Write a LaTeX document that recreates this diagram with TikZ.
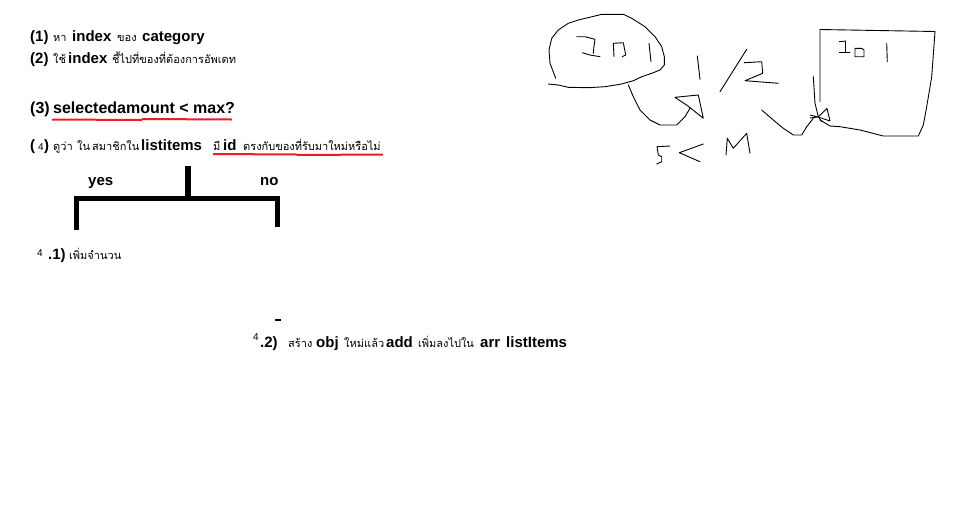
\documentclass[tikz,border=0pt]{standalone}
\usepackage{fontspec}
\setmainfont{Liberation Sans}
\newfontfamily\thai[Script=Thai]{Loma}
\definecolor{pred}{RGB}{237,28,36}
\begin{document}
\begin{tikzpicture}[x=1pt,y=-1pt,
  lat/.style={font=\fontsize{15}{18}\selectfont\bfseries, inner sep=0pt, anchor=base west},
  latb/.style={font=\fontsize{16}{18}\selectfont\bfseries, inner sep=0pt, anchor=base west},
  th/.style={font=\thai\fontsize{11}{13}\selectfont, inner sep=0pt, anchor=base west},
  sm/.style={font=\fontsize{10}{12}\selectfont, inner sep=0pt, anchor=base west},
  sketch/.style={line width=0.9pt, line join=round, line cap=round},
  ul/.style={pred, line width=2pt},
  tree/.style={line width=5.5pt}]
\useasboundingbox[fill=white] (0,0) rectangle (971,504);

% line 1
\node[lat] (p1) at (30,41) {(1)};
\node[th]  (t1a) at (53,41) {หา};
\node[lat] (t1b) at (72,41) {index};
\node[th]  (t1c) at (117,41) {ของ};
\node[lat] (t1d) at (142,41) {category};

% line 2
\node[lat] (p2) at (30,63) {(2)};
\node[th]  (t2a) at (53,63) {ใช้};
\node[lat] (t2b) at (68,63) {index};
\node[th]  (t2c) at (112,63) {ชี้ไปที่ของที่ต้องการอัพเดท};

% line 3
\node[latb] (p3) at (30,113) {(3)};
\node[latb] (t3a) at (53,113) {selectedamount < max?};
\draw[ul] (52,119.5) -- (142,120);
\draw[ul] (142,119) -- (232,119.5);

% line 4
\node[lat] (p4a) at (30,150) {(};
\node[sm]  (p4b) at (38,150) {4};
\node[lat] (p4c) at (44,150) {)};
\node[th]  (t4a) at (53,150) {ดูว่า};
\node[th]  (t4b) at (77,150) {ใน};
\node[th]  (t4c) at (92,150) {สมาชิกใน};
\node[lat] (t4d) at (141,150) {listitems};
\node[th]  (t4e) at (213,150) {มี};
\node[lat] (t4f) at (223,150) {id};
\node[th]  (t4g) at (243,150) {ตรงกับของที่รับมาใหม่หรือไม่};
\draw[ul] (213,154) -- (297,154.5);
\draw[ul] (297,155) -- (383,154.5);

% tree
\draw[tree] (188,166) -- (188,198.5);
\draw[tree, line join=miter] (76.5,230) -- (76.5,198.5) -- (277.5,198.5) -- (277.5,227);
\node[lat] (yes) at (88,185) {yes};
\node[lat] (no) at (260,185) {no};

% 4.1
\node[sm]  (p41a) at (37,256) {4};
\node[lat] (p41b) at (48,259) {.1)};
\node[th]  (t41) at (69,259) {เพิ่มจำนวน};

% 4.2
\draw[line width=2pt] (275,319.5) -- (281,319.5);
\node[sm]  (p42a) at (253,340) {4};
\node[lat] (p42b) at (260,347) {.2)};
\node[th]  (t42a) at (288,347) {สร้าง};
\node[lat] (t42b) at (316,347) {obj};
\node[th]  (t42c) at (344,347) {ใหม่};
\node[th]  (t42d) at (364,347) {แล้ว};
\node[lat] (t42e) at (386,347) {add};
\node[th]  (t42f) at (418,347) {เพิ่มลงไปใน};
\node[lat] (t42g) at (480,347) {arr};
\node[lat] (t42h) at (506,347) {listItems};

% sketch: blob
\draw[sketch] (555.7,78.3) -- (550,63.3) -- (549,50) -- (551.7,38.3) -- (558.3,30) -- (568.3,23.3) -- (578.3,20) -- (595,16) -- (601.7,14.3) -- (623.3,14.3) -- (631.7,18.3) -- (645,26.7) -- (655,36.7) -- (661.7,46.7) -- (664.3,56.7) -- (664.3,65) -- (660,70) -- (651.7,73.3) -- (641.7,76.7) -- (633.3,80.7) -- (621.7,84) -- (605,86.7) -- (588.3,87.7) -- (568.3,87.3) -- (558.3,85) -- (548.3,84);
% ID 1 in blob
\draw[sketch] (576.7,36.7) -- (585,36.7) -- (595,39.3) -- (594,46) -- (593.3,53.3);
\draw[sketch] (582.3,52.7) -- (590,55) -- (600,56.7);
\draw[sketch] (614,56.7) -- (613.3,43.3) -- (623.3,42.7) -- (625.7,55) -- (622.3,56.7);
\draw[sketch] (649,43.3) -- (651,61.7);
% curved arrow
\draw[sketch] (628.3,85) -- (633.3,96.7) -- (640,110) -- (650,120) -- (660,125) -- (676.7,125) -- (685,116.7) -- (690,108.3);
\draw[sketch] (675,97.3) -- (698.3,95) -- (703.3,118.3) -- (688,106) -- cycle;
% 1/2
\draw[sketch] (697.3,56) -- (700,79.3);
\draw[sketch] (746.7,49.3) -- (720,91.7);
\draw[sketch] (744,62.7) -- (761.7,61.7) -- (762.7,73.3) -- (745,80.7) -- (778.3,83.3);
% S < M
\draw[sketch] (670,146) -- (657,146.7) -- (658.3,155) -- (661.7,156.7) -- (661.7,161.7) -- (656.7,164);
\draw[sketch] (703.3,144) -- (679.3,152.7) -- (700,161.7);
\draw[sketch] (726,155) -- (727.3,138.3) -- (733.3,148.3) -- (746.7,133.3) -- (750,153.3);
% line to box
\draw[sketch] (761.7,110) -- (773.3,120) -- (783.3,128.3) -- (793.3,135) -- (801.7,135) -- (806.7,126.7) -- (813.3,118.3);
\draw[sketch] (810,115) -- (818,117) -- (827,108.5) -- (830,121) -- (818,117) -- (810,118);
% box
\draw[sketch] (820,101.7) -- (820,29.5) -- (935,31.5) -- (931.7,76.7) -- (926.7,106.7) -- (923.3,125) -- (918.3,136) -- (883.3,136) -- (860,130) -- (840,126.7) -- (830,126) -- (820,120);
\draw[sketch] (813.3,76.7) -- (815,103.3) -- (818.3,116.7) -- (821.7,121.7);
% ID 1 in box
\draw[sketch] (839.3,41.7) -- (846,41);
\draw[sketch] (845,41.7) -- (845,51.7);
\draw[sketch] (839.3,52.7) -- (850,52.7);
\draw[sketch] (855,56.7) -- (855,48.3) -- (861.7,48.3) -- (864,50) -- (864,56.7) -- (855,56.7);
\draw[sketch] (886.7,43.3) -- (887.3,61.7);
\end{tikzpicture}
\end{document}
